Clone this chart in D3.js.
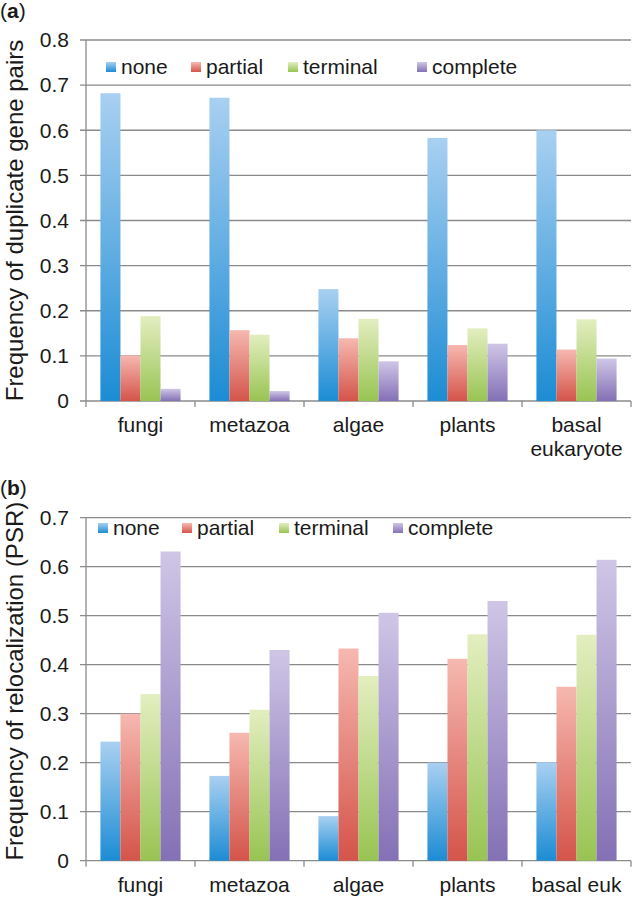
<!DOCTYPE html>
<html>
<head>
<meta charset="utf-8">
<script src="https://cdn.jsdelivr.net/npm/d3@7"></script>
<style>
  body { margin: 0; background: #fff; }
  text { font-family: "Liberation Sans", Arial, sans-serif; fill: #1a1a1a; }
</style>
</head>
<body>
<div id="chart"></div>
<script>
// data
var seriesNames = ["none", "partial", "terminal", "complete"];

var catsA = ["fungi", "metazoa", "algae", "plants", "basal eukaryote"];
var dupNone     = [0.682, 0.672, 0.248, 0.583, 0.600];
var dupPartial  = [0.101, 0.157, 0.139, 0.124, 0.114];
var dupTerminal = [0.188, 0.147, 0.182, 0.161, 0.181];
var dupComplete = [0.027, 0.022, 0.088, 0.127, 0.094];
var ticksA = [0, 0.1, 0.2, 0.3, 0.4, 0.5, 0.6, 0.7, 0.8];

var catsB = ["fungi", "metazoa", "algae", "plants", "basal euk"];
var psrNone     = [0.243, 0.173, 0.091, 0.200, 0.201];
var psrPartial  = [0.300, 0.261, 0.433, 0.412, 0.355];
var psrTerminal = [0.340, 0.308, 0.377, 0.462, 0.461];
var psrComplete = [0.631, 0.430, 0.506, 0.530, 0.614];
var ticksB = [0, 0.1, 0.2, 0.3, 0.4, 0.5, 0.6, 0.7];

// gradient stops per series: top (light) -> bottom (dark)
var grads = {
    none:     ["#a9d0f1", "#1c8cd4"],
    partial:  ["#f6b8b0", "#d4544a"],
    terminal: ["#e3eec0", "#98c453"],
    complete: ["#cfc6e6", "#8470b5"]
};

var W = 634, H = 897;
var svg = d3.select("#chart").append("svg")
    .attr("width", W).attr("height", H);

var defs = svg.append("defs");
seriesNames.forEach(function (s) {
    var g = defs.append("linearGradient")
        .attr("id", "g-" + s)
        .attr("x1", 0).attr("y1", 0).attr("x2", 0).attr("y2", 1);
    g.append("stop").attr("offset", "0%").attr("stop-color", grads[s][0]);
    g.append("stop").attr("offset", "100%").attr("stop-color", grads[s][1]);
});

function drawPanel(opt) {
    var left = 86, right = 631;
    var g = svg.append("g");

    var y = d3.scaleLinear().domain([0, opt.max]).range([opt.bottom, opt.top]);
    var x0 = d3.scaleBand().domain(opt.cats).range([left, right]).paddingInner(0).paddingOuter(0);
    var x1 = d3.scaleBand().domain(seriesNames).range([0, x0.bandwidth()])
        .paddingInner(0).paddingOuter(0.72);

    // gridlines + y ticks
    g.selectAll(".grid").data(opt.ticks).enter().append("line")
        .attr("x1", left - 6).attr("x2", right)
        .attr("y1", function (d) { return y(d); })
        .attr("y2", function (d) { return y(d); })
        .attr("stroke", "#8a8a8a").attr("stroke-width", 1.3);

    g.selectAll(".ylab").data(opt.ticks).enter().append("text")
        .attr("x", 69)
        .attr("y", function (d) { return y(d); })
        .attr("dy", "0.35em")
        .attr("text-anchor", "end")
        .attr("font-size", "21px")
        .text(function (d) { return d === 0 ? "0" : d3.format(".1f")(d); });

    // y axis line
    g.append("line")
        .attr("x1", left).attr("x2", left)
        .attr("y1", opt.top).attr("y2", opt.bottom + 6)
        .attr("stroke", "#8a8a8a").attr("stroke-width", 1.3);

    // x ticks at band edges
    var edges = opt.cats.map(function (c) { return x0(c) + x0.bandwidth(); });
    g.selectAll(".xtick").data(edges).enter().append("line")
        .attr("x1", function (d) { return d; }).attr("x2", function (d) { return d; })
        .attr("y1", opt.bottom).attr("y2", opt.bottom + 6)
        .attr("stroke", "#8a8a8a").attr("stroke-width", 1.3);

    // bars
    var rows = [];
    opt.cats.forEach(function (c, i) {
        seriesNames.forEach(function (s, j) {
            rows.push({cat: c, key: s, value: opt.values[j][i]});
        });
    });
    g.selectAll(".bar").data(rows).enter().append("rect")
        .attr("x", function (d) { return x0(d.cat) + x1(d.key); })
        .attr("y", function (d) { return y(d.value); })
        .attr("width", x1.bandwidth())
        .attr("height", function (d) { return opt.bottom - y(d.value); })
        .attr("fill", function (d) { return "url(#g-" + d.key + ")"; });

    // x labels
    opt.cats.forEach(function (c) {
        var words = opt.wrap && c.indexOf(" ") > 0 ? c.split(" ") : [c];
        var t = g.append("text")
            .attr("x", x0(c) + x0.bandwidth() / 2)
            .attr("y", opt.bottom + 31)
            .attr("text-anchor", "middle")
            .attr("font-size", "21px");
        words.forEach(function (w, k) {
            t.append("tspan").attr("x", x0(c) + x0.bandwidth() / 2)
                .attr("dy", k === 0 ? 0 : "1.15em").text(w);
        });
    });

    // legend
    seriesNames.forEach(function (s, k) {
        var lx = opt.legendX[k];
        g.append("rect")
            .attr("x", lx).attr("y", opt.legendY - 5)
            .attr("width", 10).attr("height", 10)
            .attr("fill", "url(#g-" + s + ")");
        g.append("text")
            .attr("x", lx + 15).attr("y", opt.legendY)
            .attr("dy", "0.33em")
            .attr("font-size", "21px")
            .text(s);
    });

    // y title
    g.append("text")
        .attr("transform", "translate(" + opt.titleX + "," + ((opt.top + opt.bottom) / 2 + opt.titleShift) + ") rotate(-90)")
        .attr("text-anchor", "middle")
        .attr("dy", "0.35em")
        .attr("font-size", "24px")
        .text(opt.title);

    // panel label
    var pl = svg.append("text").attr("x", 0).attr("y", opt.labelY).attr("font-size", "21px");
    pl.append("tspan").text("(");
    pl.append("tspan").attr("font-weight", "bold").text(opt.label);
    pl.append("tspan").text(")");
}

drawPanel({
    cats: catsA,
    values: [dupNone, dupPartial, dupTerminal, dupComplete],
    ticks: ticksA, max: 0.8,
    top: 40, bottom: 401,
    wrap: true,
    legendX: [106, 191, 288, 417], legendY: 67,
    title: "Frequency of duplicate gene pairs", titleX: 15, titleShift: 0,
    label: "a", labelY: 18
});

drawPanel({
    cats: catsB,
    values: [psrNone, psrPartial, psrTerminal, psrComplete],
    ticks: ticksB, max: 0.7,
    top: 517.7, bottom: 860.7,
    wrap: false,
    legendX: [98, 182, 279, 393], legendY: 528,
    title: "Frequency of relocalization (PSR)", titleX: 15, titleShift: -8,
    label: "b", labelY: 495
});
</script>
</body>
</html>
